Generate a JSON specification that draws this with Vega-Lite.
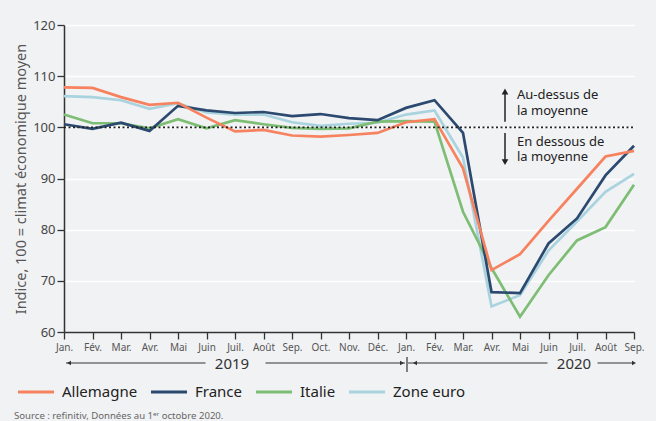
{
  "$schema": "https://vega.github.io/schema/vega-lite/v6.json",
  "width": 570,
  "height": 307,
  "autosize": {"type": "none"},
  "padding": {"left": 64, "top": 25, "right": 22, "bottom": 89},
  "background": "#f1f2f4",
  "config": {"font": "Noto Sans", "view": {"stroke": null}},
  "datasets": {
    "series": [
      {"t": "2019-01", "pays": "Zone euro", "v": 106.1}, {"t": "2019-02", "pays": "Zone euro", "v": 105.9}, {"t": "2019-03", "pays": "Zone euro", "v": 105.3}, {"t": "2019-04", "pays": "Zone euro", "v": 103.6}, {"t": "2019-05", "pays": "Zone euro", "v": 104.7}, {"t": "2019-06", "pays": "Zone euro", "v": 102.9}, {"t": "2019-07", "pays": "Zone euro", "v": 102.5}, {"t": "2019-08", "pays": "Zone euro", "v": 102.5}, {"t": "2019-09", "pays": "Zone euro", "v": 101.0}, {"t": "2019-10", "pays": "Zone euro", "v": 100.3}, {"t": "2019-11", "pays": "Zone euro", "v": 100.7}, {"t": "2019-12", "pays": "Zone euro", "v": 100.9}, {"t": "2020-01", "pays": "Zone euro", "v": 102.5}, {"t": "2020-02", "pays": "Zone euro", "v": 103.3}, {"t": "2020-03", "pays": "Zone euro", "v": 94.1}, {"t": "2020-04", "pays": "Zone euro", "v": 65.0}, {"t": "2020-05", "pays": "Zone euro", "v": 67.2}, {"t": "2020-06", "pays": "Zone euro", "v": 75.9}, {"t": "2020-07", "pays": "Zone euro", "v": 81.6}, {"t": "2020-08", "pays": "Zone euro", "v": 87.4}, {"t": "2020-09", "pays": "Zone euro", "v": 90.9},
      {"t": "2019-01", "pays": "Italie", "v": 102.5}, {"t": "2019-02", "pays": "Italie", "v": 100.8}, {"t": "2019-03", "pays": "Italie", "v": 100.8}, {"t": "2019-04", "pays": "Italie", "v": 99.8}, {"t": "2019-05", "pays": "Italie", "v": 101.6}, {"t": "2019-06", "pays": "Italie", "v": 99.8}, {"t": "2019-07", "pays": "Italie", "v": 101.4}, {"t": "2019-08", "pays": "Italie", "v": 100.6}, {"t": "2019-09", "pays": "Italie", "v": 99.9}, {"t": "2019-10", "pays": "Italie", "v": 99.7}, {"t": "2019-11", "pays": "Italie", "v": 99.8}, {"t": "2019-12", "pays": "Italie", "v": 101.1}, {"t": "2020-01", "pays": "Italie", "v": 101.2}, {"t": "2020-02", "pays": "Italie", "v": 101.1}, {"t": "2020-03", "pays": "Italie", "v": 83.5}, {"t": "2020-04", "pays": "Italie", "v": 72.5}, {"t": "2020-05", "pays": "Italie", "v": 63.0}, {"t": "2020-06", "pays": "Italie", "v": 71.1}, {"t": "2020-07", "pays": "Italie", "v": 77.9}, {"t": "2020-08", "pays": "Italie", "v": 80.5}, {"t": "2020-09", "pays": "Italie", "v": 88.8},
      {"t": "2019-01", "pays": "France", "v": 100.6}, {"t": "2019-02", "pays": "France", "v": 99.7}, {"t": "2019-03", "pays": "France", "v": 100.9}, {"t": "2019-04", "pays": "France", "v": 99.3}, {"t": "2019-05", "pays": "France", "v": 104.2}, {"t": "2019-06", "pays": "France", "v": 103.3}, {"t": "2019-07", "pays": "France", "v": 102.8}, {"t": "2019-08", "pays": "France", "v": 103.0}, {"t": "2019-09", "pays": "France", "v": 102.2}, {"t": "2019-10", "pays": "France", "v": 102.6}, {"t": "2019-11", "pays": "France", "v": 101.8}, {"t": "2019-12", "pays": "France", "v": 101.4}, {"t": "2020-01", "pays": "France", "v": 103.8}, {"t": "2020-02", "pays": "France", "v": 105.3}, {"t": "2020-03", "pays": "France", "v": 98.9}, {"t": "2020-04", "pays": "France", "v": 67.8}, {"t": "2020-05", "pays": "France", "v": 67.6}, {"t": "2020-06", "pays": "France", "v": 77.3}, {"t": "2020-07", "pays": "France", "v": 82.2}, {"t": "2020-08", "pays": "France", "v": 90.6}, {"t": "2020-09", "pays": "France", "v": 96.4},
      {"t": "2019-01", "pays": "Allemagne", "v": 107.8}, {"t": "2019-02", "pays": "Allemagne", "v": 107.7}, {"t": "2019-03", "pays": "Allemagne", "v": 105.9}, {"t": "2019-04", "pays": "Allemagne", "v": 104.4}, {"t": "2019-05", "pays": "Allemagne", "v": 104.8}, {"t": "2019-06", "pays": "Allemagne", "v": 101.9}, {"t": "2019-07", "pays": "Allemagne", "v": 99.2}, {"t": "2019-08", "pays": "Allemagne", "v": 99.5}, {"t": "2019-09", "pays": "Allemagne", "v": 98.4}, {"t": "2019-10", "pays": "Allemagne", "v": 98.2}, {"t": "2019-11", "pays": "Allemagne", "v": 98.5}, {"t": "2019-12", "pays": "Allemagne", "v": 98.9}, {"t": "2020-01", "pays": "Allemagne", "v": 101.0}, {"t": "2020-02", "pays": "Allemagne", "v": 101.6}, {"t": "2020-03", "pays": "Allemagne", "v": 92.0}, {"t": "2020-04", "pays": "Allemagne", "v": 72.1}, {"t": "2020-05", "pays": "Allemagne", "v": 75.2}, {"t": "2020-06", "pays": "Allemagne", "v": 81.7}, {"t": "2020-07", "pays": "Allemagne", "v": 88.0}, {"t": "2020-08", "pays": "Allemagne", "v": 94.3}, {"t": "2020-09", "pays": "Allemagne", "v": 95.4}
    ]
  },
  "layer": [
    {
      "data": {"name": "series"},
      "mark": {"type": "line", "strokeWidth": 2.7},
      "encoding": {
        "x": {
          "field": "t", "type": "ordinal",
          "scale": {"type": "point", "padding": 0, "domain": ["2019-01","2019-02","2019-03","2019-04","2019-05","2019-06","2019-07","2019-08","2019-09","2019-10","2019-11","2019-12","2020-01","2020-02","2020-03","2020-04","2020-05","2020-06","2020-07","2020-08","2020-09"]},
          "axis": {
            "title": null, "labelAngle": 0,
            "labelExpr": "['Jan.','Fév.','Mar.','Avr.','Mai','Juin','Juil.','Août','Sep.','Oct.','Nov.','Déc.'][toNumber(slice(datum.value,5,7))-1]",
            "labelFontSize": 10, "labelColor": "#555", "labelPadding": 3,
            "tickColor": "#333", "tickSize": 7, "tickWidth": 1.3,
            "domainColor": "#333", "domainWidth": 1.5, "grid": false
          }
        },
        "y": {
          "field": "v", "type": "quantitative",
          "scale": {"domain": [60, 120], "nice": false, "zero": false},
          "axis": {
            "title": "Indice, 100 = climat économique moyen",
            "values": [60, 70, 80, 90, 100, 110, 120],
            "grid": true, "gridColor": "#ffffff", "gridWidth": 1.5,
            "labelFontSize": 13, "labelColor": "#444", "labelPadding": 2,
            "tickSize": 7, "tickColor": "#333", "tickWidth": 1.3,
            "domainColor": "#333", "domainWidth": 1.5,
            "titleFontSize": 14.5, "titleColor": "#555", "titleFontWeight": "normal", "titlePadding": 4
          }
        },
        "color": {
          "field": "pays", "type": "nominal",
          "scale": {"domain": ["Allemagne", "France", "Italie", "Zone euro"], "range": ["#f7825f", "#2c4a70", "#7dbd74", "#a9d3df"]},
          "legend": {
            "orient": "none", "legendX": -48, "legendY": 347, "direction": "horizontal",
            "title": null, "symbolType": "stroke", "symbolSize": 1300, "symbolStrokeWidth": 3,
            "labelFontSize": 15, "labelColor": "#222", "columnPadding": 6, "labelOffset": 6, "gridAlign": "each"
          }
        }
      }
    },
    {
      "data": {"values": [{"t": "2019-01", "t2": "2020-09", "v": 100}]},
      "mark": {"type": "rule", "strokeDash": [2, 2.5], "strokeWidth": 1.6, "color": "#222"},
      "encoding": {"x": {"field": "t", "type": "ordinal"}, "x2": {"field": "t2"}, "y": {"field": "v", "type": "quantitative"}}
    },
    {
      "data": {"values": [{"t": "2019-01", "t2": "2019-06", "v": 53.94}, {"t": "2019-08", "t2": "2020-01", "v": 53.94}, {"t": "2020-01", "t2": "2020-06", "v": 53.94}]},
      "mark": {"type": "rule", "color": "#333", "strokeWidth": 1.2, "xOffset": 2, "x2Offset": -1},
      "encoding": {"x": {"field": "t", "type": "ordinal"}, "x2": {"field": "t2"}, "y": {"field": "v", "type": "quantitative"}}
    },
    {
      "data": {"values": [{"t": "2020-08", "t2": "2020-09", "v": 53.94}]},
      "mark": {"type": "rule", "color": "#333", "strokeWidth": 1.2, "xOffset": -8, "x2Offset": 0},
      "encoding": {"x": {"field": "t", "type": "ordinal"}, "x2": {"field": "t2"}, "y": {"field": "v", "type": "quantitative"}}
    },
    {
      "data": {"values": [{"t": "2020-01", "v": 55.1, "v2": 52.2}]},
      "mark": {"type": "rule", "color": "#333", "strokeWidth": 1.2, "xOffset": 1},
      "encoding": {"x": {"field": "t", "type": "ordinal"}, "y": {"field": "v", "type": "quantitative"}, "y2": {"field": "v2"}}
    },
    {
      "data": {"values": [{"t": "2019-01", "v": 53.94}]},
      "mark": {"type": "point", "shape": "triangle-left", "filled": true, "size": 22, "color": "#333", "opacity": 1, "xOffset": 5},
      "encoding": {"x": {"field": "t", "type": "ordinal"}, "y": {"field": "v", "type": "quantitative"}}
    },
    {
      "data": {"values": [{"t": "2020-01", "v": 53.94}]},
      "mark": {"type": "point", "shape": "triangle-left", "filled": true, "size": 22, "color": "#333", "opacity": 1, "xOffset": 9},
      "encoding": {"x": {"field": "t", "type": "ordinal"}, "y": {"field": "v", "type": "quantitative"}}
    },
    {
      "data": {"values": [{"t": "2020-01", "v": 53.94}]},
      "mark": {"type": "point", "shape": "triangle-right", "filled": true, "size": 22, "color": "#333", "opacity": 1, "xOffset": -4},
      "encoding": {"x": {"field": "t", "type": "ordinal"}, "y": {"field": "v", "type": "quantitative"}}
    },
    {
      "data": {"values": [{"t": "2020-09", "v": 53.94}]},
      "mark": {"type": "point", "shape": "triangle-right", "filled": true, "size": 22, "color": "#333", "opacity": 1, "xOffset": 0},
      "encoding": {"x": {"field": "t", "type": "ordinal"}, "y": {"field": "v", "type": "quantitative"}}
    },
    {
      "data": {"values": [{"t": "2019-07", "v": 53.8, "label": "2019"}, {"t": "2020-07", "v": 53.8, "label": "2020"}]},
      "mark": {"type": "text", "fontSize": 15, "color": "#333", "baseline": "middle", "align": "center", "dx": -3},
      "encoding": {"x": {"field": "t", "type": "ordinal"}, "y": {"field": "v", "type": "quantitative"}, "text": {"field": "label"}}
    },
    {
      "data": {"values": [{"t": "2020-05", "v": 101.1, "v2": 106.6}, {"t": "2020-05", "v": 98.9, "v2": 93.6}]},
      "mark": {"type": "rule", "color": "#222", "strokeWidth": 1.5, "xOffset": -15},
      "encoding": {"x": {"field": "t", "type": "ordinal"}, "y": {"field": "v", "type": "quantitative"}, "y2": {"field": "v2"}}
    },
    {
      "data": {"values": [{"t": "2020-05", "v": 107.0}]},
      "mark": {"type": "point", "shape": "triangle-up", "filled": true, "size": 45, "color": "#222", "opacity": 1, "xOffset": -15},
      "encoding": {"x": {"field": "t", "type": "ordinal"}, "y": {"field": "v", "type": "quantitative"}}
    },
    {
      "data": {"values": [{"t": "2020-05", "v": 93.2}]},
      "mark": {"type": "point", "shape": "triangle-down", "filled": true, "size": 45, "color": "#222", "opacity": 1, "xOffset": -15},
      "encoding": {"x": {"field": "t", "type": "ordinal"}, "y": {"field": "v", "type": "quantitative"}}
    },
    {
      "data": {"values": [{"t": "2020-05", "v": 106.3, "label": "Au-dessus de"}, {"t": "2020-05", "v": 103.2, "label": "la moyenne"}, {"t": "2020-05", "v": 97.1, "label": "En dessous de"}, {"t": "2020-05", "v": 94.2, "label": "la moyenne"}]},
      "mark": {"type": "text", "fontSize": 13, "color": "#222", "align": "left", "baseline": "middle", "dx": -3},
      "encoding": {"x": {"field": "t", "type": "ordinal"}, "y": {"field": "v", "type": "quantitative"}, "text": {"field": "label"}}
    },
    {
      "data": {"values": [{"t": "2019-01", "v": 43.55, "label": "Source : refinitiv, Données au 1ᵉʳ octobre 2020."}]},
      "mark": {"type": "text", "fontSize": 9.6, "color": "#666", "align": "left", "baseline": "middle", "dx": -50},
      "encoding": {"x": {"field": "t", "type": "ordinal"}, "y": {"field": "v", "type": "quantitative"}, "text": {"field": "label"}}
    }
  ]
}
